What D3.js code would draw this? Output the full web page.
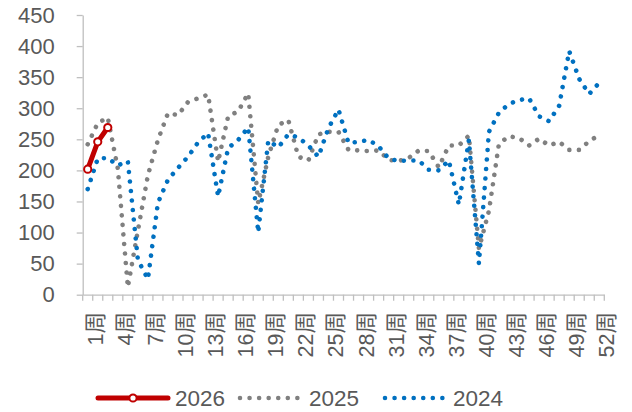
<!DOCTYPE html>
<html>
<head>
<meta charset="utf-8">
<script src="https://cdn.jsdelivr.net/npm/d3@7/dist/d3.min.js"></script>
<style>
  html, body { margin: 0; padding: 0; background: #fff; }
  svg { display: block; }
  text { font-family: "Liberation Sans", Arial, "Noto Sans CJK SC", sans-serif; fill: #595959; }
</style>
</head>
<body>
<svg id="chart" width="632" height="412"></svg>
<script>
// Weekly categories 1周 … 52周
const weeks = d3.range(1, 53).map(i => i + "周");
// Labelled weeks on the x axis (every third week)
const weekLabels = d3.range(1, 53, 3).map(i => i + "周");
const yTicks = [0, 50, 100, 150, 200, 250, 300, 350, 400, 450];

const seriesNames = ["2026", "2025", "2024"];

const values2026 = [202, 246, 269];

const values2025 = [242, 276, 285, 203, 12, 103, 192, 249, 292, 289,
                    310, 316, 322, 214, 287, 295, 324, 147, 222, 273,
                    281, 222, 216, 258, 262, 262, 233, 232, 231, 232,
                    217, 215, 220, 232, 231, 205, 240, 240, 256, 74,
                    135, 243, 255, 252, 240, 251, 240, 246, 233, 233,
                    247, 257];

const values2024 = [170, 219, 220, 208, 215, 56, 25, 148, 185, 204,
                    222, 245, 260, 158, 236, 249, 269, 100, 248, 237,
                    258, 253, 240, 222, 268, 298, 244, 246, 249, 239,
                    219, 215, 216, 216, 201, 200, 216, 145, 249, 50,
                    262, 293, 307, 313, 316, 287, 279, 304, 392, 347,
                    323, 341];

const colors = { "2026": "#C00000", "2025": "#808080", "2024": "#0070C0" };
const axisColor = "#BFBFBF";
const dotDash = "0.01 9.55";

const svg = d3.select("#chart");

const x = d3.scaleBand().domain(weeks).range([82.7, 604.3]).padding(0);
const y = d3.scaleLinear().domain([0, 450]).range([294.7, 15]);
const cx = w => x(w) + x.bandwidth() / 2;

// Y axis
const yAxis = svg.append("g")
  .attr("transform", "translate(82.7,0)")
  .call(d3.axisLeft(y).tickValues(yTicks).tickSize(6).tickSizeOuter(0).tickPadding(22));
yAxis.select(".domain").attr("stroke", axisColor).attr("stroke-width", 1.3);
yAxis.selectAll(".tick line").attr("stroke", axisColor).attr("stroke-width", 1.3);
yAxis.selectAll(".tick text")
  .attr("font-size", 22).attr("fill", "#595959")
  .style("font-family", "'Liberation Sans', Arial, sans-serif");

// X axis: line, a tick at every category boundary, labels every third week
const xAxis = svg.append("g").attr("transform", "translate(0," + y(0) + ")");
xAxis.call(d3.axisBottom(x).tickValues([]).tickSizeOuter(0));
xAxis.select(".domain").attr("stroke", axisColor).attr("stroke-width", 1.3);
const boundaries = weeks.map(w => x(w)).concat([x.range()[1]]);
xAxis.selectAll("line.bound")
  .data(boundaries)
  .join("line")
  .attr("class", "bound")
  .attr("x1", d => d).attr("x2", d => d)
  .attr("y1", 0).attr("y2", 6)
  .attr("stroke", axisColor).attr("stroke-width", 1.3);

svg.append("g").selectAll("text")
  .data(weekLabels)
  .join("text")
  .attr("transform", d => "translate(" + (cx(d) + 7.5) + ",312) rotate(-90)")
  .attr("text-anchor", "end")
  .attr("dy", "0.35em")
  .attr("font-size", 21.5)
  .text(d => d);

// Lines
const line = d3.line()
  .x((d, i) => cx(weeks[i]))
  .y(d => y(d));

const plot = svg.append("g");

plot.append("path")
  .datum(values2025)
  .attr("d", line)
  .attr("fill", "none")
  .attr("stroke", colors["2025"])
  .attr("stroke-width", 4.6)
  .attr("stroke-linecap", "round")
  .attr("stroke-dasharray", dotDash);

plot.append("path")
  .datum(values2024)
  .attr("d", line)
  .attr("fill", "none")
  .attr("stroke", colors["2024"])
  .attr("stroke-width", 4.6)
  .attr("stroke-linecap", "round")
  .attr("stroke-dasharray", dotDash);

plot.append("path")
  .datum(values2026)
  .attr("d", line)
  .attr("fill", "none")
  .attr("stroke", colors["2026"])
  .attr("stroke-width", 5)
  .attr("stroke-linecap", "round");

plot.selectAll("circle.m2026")
  .data(values2026)
  .join("circle")
  .attr("class", "m2026")
  .attr("cx", (d, i) => cx(weeks[i]))
  .attr("cy", d => y(d))
  .attr("r", 3.6)
  .attr("fill", "#fff")
  .attr("stroke", colors["2026"])
  .attr("stroke-width", 2);

// Legend
const legendY = 398;
const legendItems = [
  { name: seriesNames[0], x0: 98, x1: 168, tx: 175 },
  { name: seriesNames[1], x0: 240, x1: 297.5, tx: 309 },
  { name: seriesNames[2], x0: 385, x1: 442.5, tx: 453 }
];
const legend = svg.append("g");
legendItems.forEach((it, k) => {
  const ln = legend.append("line")
    .attr("x1", it.x0).attr("x2", it.x1)
    .attr("y1", legendY).attr("y2", legendY)
    .attr("stroke", colors[it.name])
    .attr("stroke-linecap", "round");
  if (k === 0) {
    ln.attr("stroke-width", 5);
    legend.append("circle")
      .attr("cx", (it.x0 + it.x1) / 2).attr("cy", legendY).attr("r", 3.6)
      .attr("fill", "#fff").attr("stroke", colors[it.name]).attr("stroke-width", 2);
  } else {
    ln.attr("stroke-width", 4.6).attr("stroke-dasharray", dotDash);
  }
  legend.append("text")
    .attr("x", it.tx).attr("y", legendY)
    .attr("dy", "0.35em")
    .attr("font-size", 22.5)
    .text(it.name);
});
</script>
</body>
</html>
